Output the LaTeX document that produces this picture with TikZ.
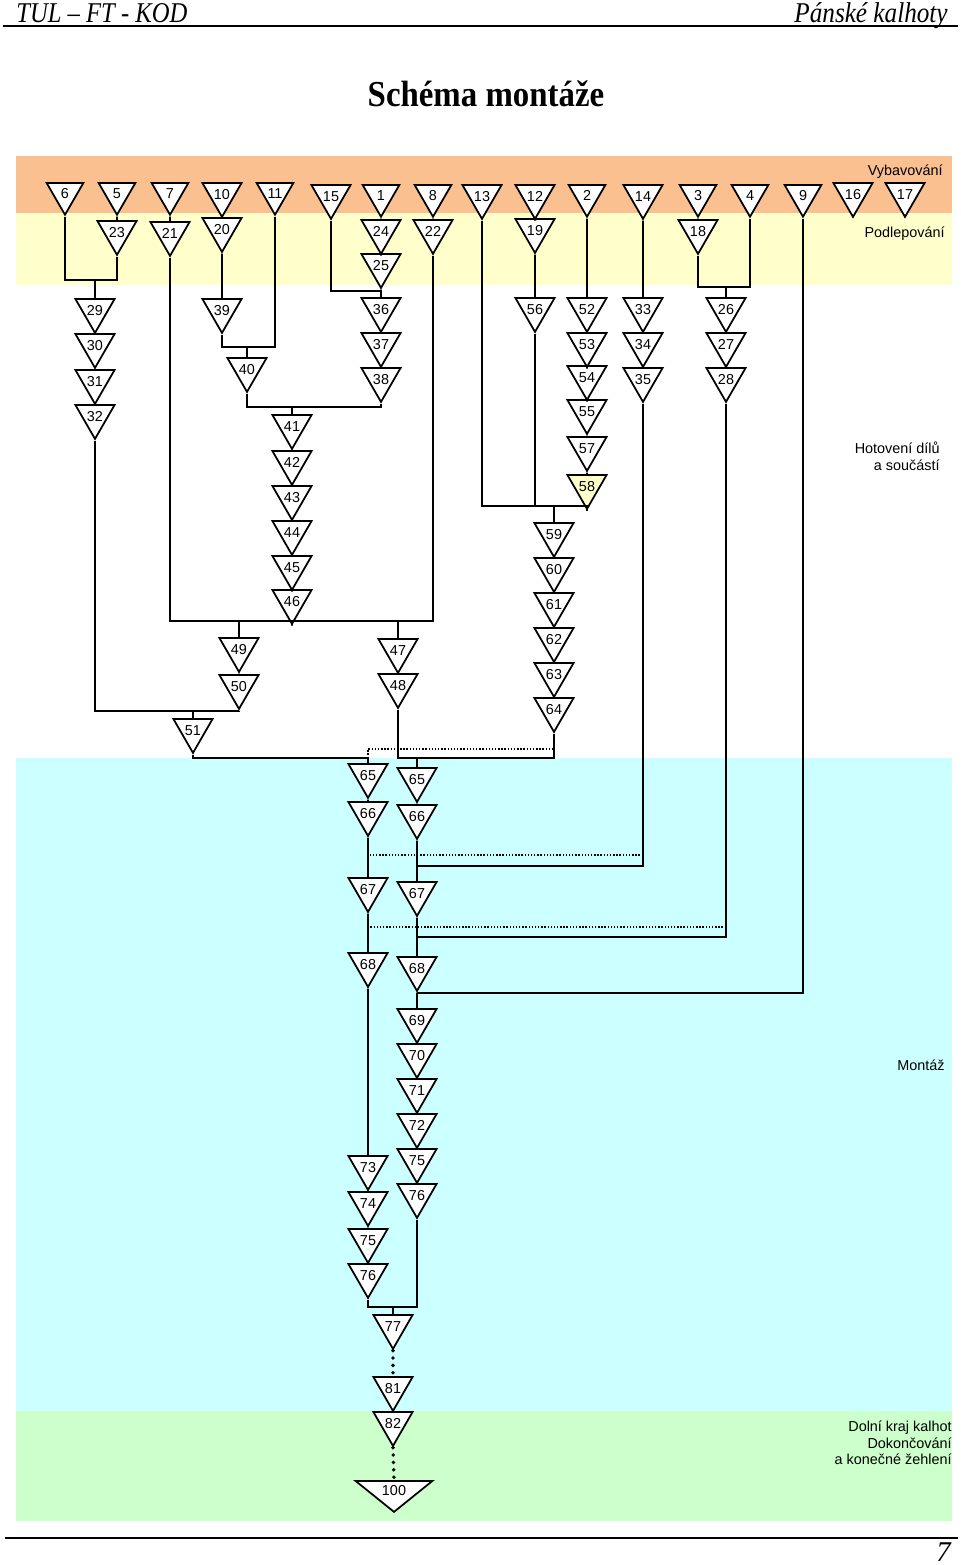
\documentclass[tikz,border=0pt]{standalone}
\usepackage{fontspec}
\usepackage{graphicx}
\setmainfont{Liberation Serif}
\newfontfamily\lsans{Liberation Sans}
\usetikzlibrary{shapes.geometric}
\definecolor{bandorange}{RGB}{250,192,144}
\definecolor{bandyellow}{RGB}{255,255,204}
\definecolor{bandcyan}{RGB}{204,255,255}
\definecolor{bandgreen}{RGB}{204,255,204}
\tikzset{
  op/.style={regular polygon, regular polygon sides=3, shape border rotate=180,
    draw, fill=white, line width=1pt, inner sep=0pt, minimum size=0.85cm,
    anchor=north, font=\lsans\fontsize{8.2}{9.4}\selectfont},
  opend/.style={isosceles triangle, isosceles triangle apex angle=100,
    isosceles triangle stretches, shape border rotate=270, draw, fill=white,
    line width=1pt, inner sep=0pt, minimum width=1.54cm, minimum height=0.62cm,
    font=\lsans\fontsize{8.2}{9.4}\selectfont},
  link/.style={line width=1pt},
  dotlink/.style={line width=0.8pt, densely dotted},
  bigdots/.style={line width=2.2pt, dash pattern=on 0pt off 4.2pt, line cap=round},
  lane/.style={font=\lsans\fontsize{8.2}{9.5}\selectfont, align=right,
    anchor=east, inner sep=0pt}
}
\begin{document}
\begin{tikzpicture}[x=0.02cm, y=-0.02cm]
  \useasboundingbox (0,0) rectangle (960,1565);
  \fill[bandorange] (16,156) rectangle (952,213);
  \fill[bandyellow] (16,213) rectangle (952,285);
  \fill[bandcyan] (16,758) rectangle (952,1411);
  \fill[bandgreen] (16,1411) rectangle (952,1521);
  \draw[line width=1.2pt] (3,26) -- (958,26);
  \draw[line width=1.2pt] (5,1538) -- (958,1538);

  \node[anchor=base west, inner sep=0pt, font=\fontsize{16.3}{18}\selectfont] (head) at (16,22)
    {\scalebox{0.86}[1]{\itshape TUL – FT - KOD}};
  \node[anchor=base east, inner sep=0pt, font=\fontsize{16.3}{18}\selectfont] (doc) at (948,22)
    {\scalebox{0.88}[1]{\itshape Pánské kalhoty}};
  \node[anchor=base, inner sep=0pt, font=\fontsize{20.8}{24}\selectfont] (title) at (486,106)
    {\scalebox{0.9}[1]{\bfseries Schéma montáže}};
  \node[anchor=base east, inner sep=0pt, font=\fontsize{16.3}{18}\selectfont] (page) at (951,1561)
    {\itshape 7};

  \node[lane] (vyb) at (943,172) {Vybavování};
  \node[lane] (pod) at (945,234) {Podlepování};
  \node[lane] (hot) at (940,456) {Hotovení dílů\\a součástí};
  \node[lane] (mon) at (945,1065) {Montáž};
  \node[lane] (dok) at (952,1443) {Dolní kraj kalhot\\Dokončování\\a konečné žehlení};

  \node[op] (n6) at (65,182) {6};
  \node[op] (n5) at (117,182) {5};
  \node[op] (n7) at (170,182) {7};
  \node[op] (n10) at (222,182) {10};
  \node[op] (n11) at (275,182) {11};
  \node[op] (n15) at (331,184) {15};
  \node[op] (n1) at (381,184) {1};
  \node[op] (n8) at (433,184) {8};
  \node[op] (n13) at (482,184) {13};
  \node[op] (n12) at (535,184) {12};
  \node[op] (n2) at (587,184) {2};
  \node[op] (n14) at (643,184) {14};
  \node[op] (n3) at (698,184) {3};
  \node[op] (n4) at (750,184) {4};
  \node[op] (n9) at (803,184) {9};
  \node[op] (n16) at (853,182) {16};
  \node[op] (n17) at (905,182) {17};

  \node[op] (n23) at (117,220) {23};
  \node[op] (n21) at (170,221) {21};
  \node[op] (n20) at (222,217) {20};
  \node[op] (n24) at (381,219) {24};
  \node[op] (n22) at (433,219) {22};
  \node[op] (n19) at (535,218) {19};
  \node[op] (n18) at (698,219) {18};
  \node[op] (n25) at (381,253) {25};

  \node[op] (n29) at (95,298) {29};
  \node[op] (n30) at (95,333) {30};
  \node[op] (n31) at (95,369) {31};
  \node[op] (n32) at (95,404) {32};
  \node[op] (n39) at (222,298) {39};
  \node[op] (n40) at (247,357) {40};
  \node[op] (n36) at (381,297) {36};
  \node[op] (n37) at (381,332) {37};
  \node[op] (n38) at (381,367) {38};
  \node[op] (n41) at (292,414) {41};
  \node[op] (n42) at (292,450) {42};
  \node[op] (n43) at (292,485) {43};
  \node[op] (n44) at (292,520) {44};
  \node[op] (n45) at (292,555) {45};
  \node[op] (n46) at (292,589) {46};
  \node[op] (n56) at (535,297) {56};
  \node[op] (n52) at (587,297) {52};
  \node[op] (n53) at (587,332) {53};
  \node[op] (n54) at (587,365) {54};
  \node[op] (n55) at (587,399) {55};
  \node[op] (n57) at (587,436) {57};
  \node[op, fill=bandyellow] (n58) at (587,474) {58};
  \node[op] (n33) at (643,297) {33};
  \node[op] (n34) at (643,332) {34};
  \node[op] (n35) at (643,367) {35};
  \node[op] (n26) at (726,297) {26};
  \node[op] (n27) at (726,332) {27};
  \node[op] (n28) at (726,367) {28};
  \node[op] (n59) at (554,522) {59};
  \node[op] (n60) at (554,557) {60};
  \node[op] (n61) at (554,592) {61};
  \node[op] (n62) at (554,627) {62};
  \node[op] (n63) at (554,662) {63};
  \node[op] (n64) at (554,697) {64};
  \node[op] (n49) at (239,637) {49};
  \node[op] (n50) at (239,674) {50};
  \node[op] (n47) at (398,638) {47};
  \node[op] (n48) at (398,673) {48};
  \node[op] (n51) at (193,718) {51};

  \node[op] (n65a) at (368,763) {65};
  \node[op] (n66a) at (368,801) {66};
  \node[op] (n67a) at (368,877) {67};
  \node[op] (n68a) at (368,952) {68};
  \node[op] (n65b) at (417,767) {65};
  \node[op] (n66b) at (417,804) {66};
  \node[op] (n67b) at (417,881) {67};
  \node[op] (n68b) at (417,956) {68};
  \node[op] (n69) at (417,1008) {69};
  \node[op] (n70) at (417,1043) {70};
  \node[op] (n71) at (417,1078) {71};
  \node[op] (n72) at (417,1113) {72};
  \node[op] (n75b) at (417,1148) {75};
  \node[op] (n76b) at (417,1183) {76};
  \node[op] (n73) at (368,1155) {73};
  \node[op] (n74) at (368,1191) {74};
  \node[op] (n75a) at (368,1228) {75};
  \node[op] (n76a) at (368,1263) {76};
  \node[op] (n77) at (393,1314) {77};
  \node[op] (n81) at (393,1376) {81};
  \node[op] (n82) at (393,1411) {82};
  \node[opend, anchor=apex] (n100) at (394,1513) {100};

  \coordinate (j29) at (95,280);
  \coordinate (j40) at (247,347);
  \coordinate (j36) at (381,291);
  \coordinate (j41) at (292,407);
  \coordinate (j49) at (239,621);
  \coordinate (j46) at (292,621);
  \coordinate (j47) at (398,621);
  \coordinate (j59) at (554,506);
  \coordinate (j26) at (726,287);
  \coordinate (j51) at (193,711);
  \coordinate (j65a) at (368,758);
  \coordinate (j65b) at (417,758);
  \coordinate (d64) at (554,749);
  \coordinate (j67) at (417,866);
  \coordinate (d35) at (643,855);
  \coordinate (j68) at (417,937);
  \coordinate (d28) at (726,927);
  \coordinate (j69) at (417,993);
  \coordinate (j77) at (393,1307);

  \draw[link] (n5.south) -- (n23.north);
  \draw[link] (n7.south) -- (n21.north);
  \draw[link] (n10.south) -- (n20.north);
  \draw[link] (n1.south) -- (n24.north);
  \draw[link] (n24.south) -- (n25.north);
  \draw[link] (n8.south) -- (n22.north);
  \draw[link] (n12.south) -- (n19.north);
  \draw[link] (n3.south) -- (n18.north);
  \draw[link] (n6.south) |- (j29) -| (n23.south);
  \draw[link] (j29) -- (n29.north);
  \draw[link] (n29.south) -- (n30.north);
  \draw[link] (n30.south) -- (n31.north);
  \draw[link] (n31.south) -- (n32.north);
  \draw[link] (n20.south) -- (n39.north);
  \draw[link] (n39.south) |- (j40) -| (n11.south);
  \draw[link] (j40) -- (n40.north);
  \draw[link] (n15.south) |- (j36);
  \draw[link] (n25.south) -- (n36.north);
  \draw[link] (n36.south) -- (n37.north);
  \draw[link] (n37.south) -- (n38.north);
  \draw[link] (n40.south) |- (j41) -| (n38.south);
  \draw[link] (j41) -- (n41.north);
  \draw[link] (n41.south) -- (n42.north);
  \draw[link] (n42.south) -- (n43.north);
  \draw[link] (n43.south) -- (n44.north);
  \draw[link] (n44.south) -- (n45.north);
  \draw[link] (n45.south) -- (n46.north);
  \draw[link] (n21.south) |- (j49) -- (j46) -- (j47) -| (n22.south);
  \draw[link] (n46.south) -- (j46);
  \draw[link] (j49) -- (n49.north);
  \draw[link] (n49.south) -- (n50.north);
  \draw[link] (j47) -- (n47.north);
  \draw[link] (n47.south) -- (n48.north);
  \draw[link] (n19.south) -- (n56.north);
  \draw[link] (n2.south) -- (n52.north);
  \draw[link] (n52.south) -- (n53.north);
  \draw[link] (n53.south) -- (n54.north);
  \draw[link] (n54.south) -- (n55.north);
  \draw[link] (n55.south) -- (n57.north);
  \draw[link] (n57.south) -- (n58.north);
  \draw[link] (n14.south) -- (n33.north);
  \draw[link] (n33.south) -- (n34.north);
  \draw[link] (n34.south) -- (n35.north);
  \draw[link] (n18.south) |- (j26) -| (n4.south);
  \draw[link] (j26) -- (n26.north);
  \draw[link] (n26.south) -- (n27.north);
  \draw[link] (n27.south) -- (n28.north);
  \draw[link] (n13.south) |- (j59) -| (n58.south);
  \draw[link] (n56.south) -- (n56.south |- j59);
  \draw[link] (j59) -- (n59.north);
  \draw[link] (n59.south) -- (n60.north);
  \draw[link] (n60.south) -- (n61.north);
  \draw[link] (n61.south) -- (n62.north);
  \draw[link] (n62.south) -- (n63.north);
  \draw[link] (n63.south) -- (n64.north);
  \draw[link] (n32.south) |- (j51) -| (n50.south);
  \draw[link] (j51) -- (n51.north);
  \draw[link] (n51.south) |- (j65a) -- (n65a.north);
  \draw[link] (n48.south) |- (j65b) -| (n64.south);
  \draw[link] (j65b) -- (n65b.north);
  \draw[dotlink] (j65a) |- (d64);
  \draw[link] (n65a.south) -- (n66a.north);
  \draw[link] (n66a.south) -- (n67a.north);
  \draw[link] (n67a.south) -- (n68a.north);
  \draw[link] (n65b.south) -- (n66b.north);
  \draw[link] (n66b.south) -- (n67b.north);
  \draw[link] (n67b.south) -- (n68b.north);
  \draw[link] (n35.south) |- (j67);
  \draw[dotlink] (d35) -- (d35 -| n66a.south);
  \draw[link] (n28.south) |- (j68);
  \draw[dotlink] (d28) -- (d28 -| n67a.south);
  \draw[link] (n9.south) |- (j69);
  \draw[link] (n68b.south) -- (n69.north);
  \draw[link] (n69.south) -- (n70.north);
  \draw[link] (n70.south) -- (n71.north);
  \draw[link] (n71.south) -- (n72.north);
  \draw[link] (n72.south) -- (n75b.north);
  \draw[link] (n75b.south) -- (n76b.north);
  \draw[link] (n68a.south) -- (n73.north);
  \draw[link] (n73.south) -- (n74.north);
  \draw[link] (n74.south) -- (n75a.north);
  \draw[link] (n75a.south) -- (n76a.north);
  \draw[link] (n76a.south) |- (j77) -| (n76b.south);
  \draw[link] (j77) -- (n77.north);
  \draw[bigdots] (n77.south) -- (n81.north);
  \draw[link] (n81.south) -- (n82.north);
  \draw[bigdots] (n82.south) -- (n100.north);
\end{tikzpicture}
\end{document}
